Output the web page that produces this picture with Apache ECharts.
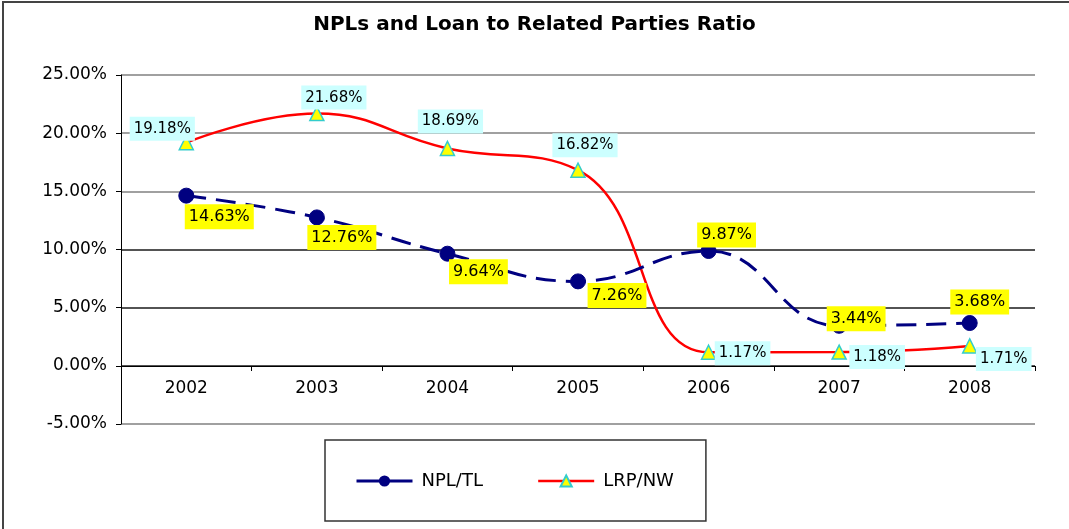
<!DOCTYPE html>
<html>
<head>
    <meta charset="UTF-8">
    <title>NPLs and Loan to Related Parties Ratio</title>
    <script src="https://cdnjs.cloudflare.com/ajax/libs/echarts/6.0.0/echarts.min.js"></script>
    <style>
        html, body { margin: 0; padding: 0; background: #fff; }
        #myChart { width: 1069px; height: 529px; }
    </style>
</head>
<body>
    <div id="myChart"></div>

    <script>
        // data (percent)
        const years = ['2002', '2003', '2004', '2005', '2006', '2007', '2008'];
        const nplTL = [14.63, 12.76, 9.64, 7.26, 9.87, 3.44, 3.68];
        const lrpNW = [19.18, 21.68, 18.69, 16.82, 1.17, 1.18, 1.71];

        // where each data label sits, relative to its point
        const nplOffsets = [[33, 21], [25, 20], [31, 18], [39, 14], [18, -16], [17, -7], [10, -21]];
        const lrpOffsets = [[-24, -14], [17, -16], [3, -27], [7, -25], [34, 1], [38, 5], [34, 13]];

        const font = 'DejaVu Sans';

        function withLabels(values, offsets, bg, size) {
            return values.map((v, i) => ({
                value: v,
                label: {
                    show: true,
                    position: 'inside',
                    offset: offsets[i],
                    formatter: v.toFixed(2) + '%',
                    color: '#000',
                    fontFamily: font,
                    fontSize: size,
                    backgroundColor: bg,
                    padding: [5, 4, 4, 4]
                }
            }));
        }

        const chart = echarts.init(document.getElementById('myChart'));
        const option = {
            backgroundColor: '#fff',
            animation: false,
            title: {
                text: 'NPLs and Loan to Related Parties Ratio',
                left: 'center',
                top: 15,
                padding: 0,
                textStyle: { fontFamily: font, fontSize: 20, fontWeight: 'bold', color: '#000' }
            },
            // outer frame: only top and left edges show in the picture
            graphic: [{
                type: 'polyline',
                shape: { points: [[3, 540], [3, 2], [1075, 2]] },
                style: { fill: null, stroke: '#444', lineWidth: 2 },
                silent: true
            }],
            grid: { left: 121, right: 34, top: 75, bottom: 105, containLabel: false },
            legend: {
                left: 325,
                top: 440,
                orient: 'horizontal',
                padding: [32, 32, 31, 30],
                itemWidth: 56,
                itemHeight: 14,
                itemGap: 54,
                borderColor: '#333',
                borderWidth: 1.5,
                backgroundColor: '#fff',
                textStyle: { fontFamily: font, fontSize: 18, color: '#000', padding: [0, 0, 0, 4] },
                data: [
                    { name: 'NPL/TL', lineStyle: { type: 'solid', width: 3 } },
                    { name: 'LRP/NW', lineStyle: { type: 'solid', width: 2.5 } }
                ]
            },
            xAxis: {
                type: 'category',
                data: years,
                boundaryGap: true,
                // category axis crosses the value axis at 0
                offset: -58,
                axisLine: { onZero: false, lineStyle: { color: '#000', width: 1 } },
                axisTick: { show: true, length: 5, lineStyle: { color: '#000' } },
                axisLabel: { margin: 14, fontFamily: font, fontSize: 17, color: '#000' },
                splitLine: { show: false }
            },
            yAxis: {
                type: 'value',
                min: -5,
                max: 25,
                interval: 5,
                axisLine: { show: true, lineStyle: { color: '#000', width: 1 } },
                axisTick: { show: true, length: 5, lineStyle: { color: '#000' } },
                axisLabel: {
                    margin: 14,
                    fontFamily: font,
                    fontSize: 17,
                    color: '#000',
                    formatter: v => v.toFixed(2) + '%'
                },
                splitLine: {
                    show: true,
                    lineStyle: {
                        width: 1.5,
                        color: ['#808080', '#1a1a1a', '#1a1a1a', '#1a1a1a', '#808080', '#808080', '#808080']
                    }
                }
            },
            series: [
                {
                    name: 'LRP/NW',
                    type: 'line',
                    smooth: 0.45,
                    data: withLabels(lrpNW, lrpOffsets, '#ccffff', 15),
                    symbol: 'triangle',
                    symbolSize: 14,
                    itemStyle: { color: '#ffff00', borderColor: '#33cccc', borderWidth: 1.5 },
                    lineStyle: { color: '#ff0000', width: 2.5 },
                    z: 2
                },
                {
                    name: 'NPL/TL',
                    type: 'line',
                    smooth: 0.45,
                    data: withLabels(nplTL, nplOffsets, '#ffff00', 16),
                    symbol: 'circle',
                    symbolSize: 15,
                    itemStyle: { color: '#000080', borderColor: '#000080' },
                    lineStyle: { color: '#000080', width: 3, type: [20, 10] },
                    z: 3
                }
            ]
        };
        chart.setOption(option);
    </script>
</body>
</html>
